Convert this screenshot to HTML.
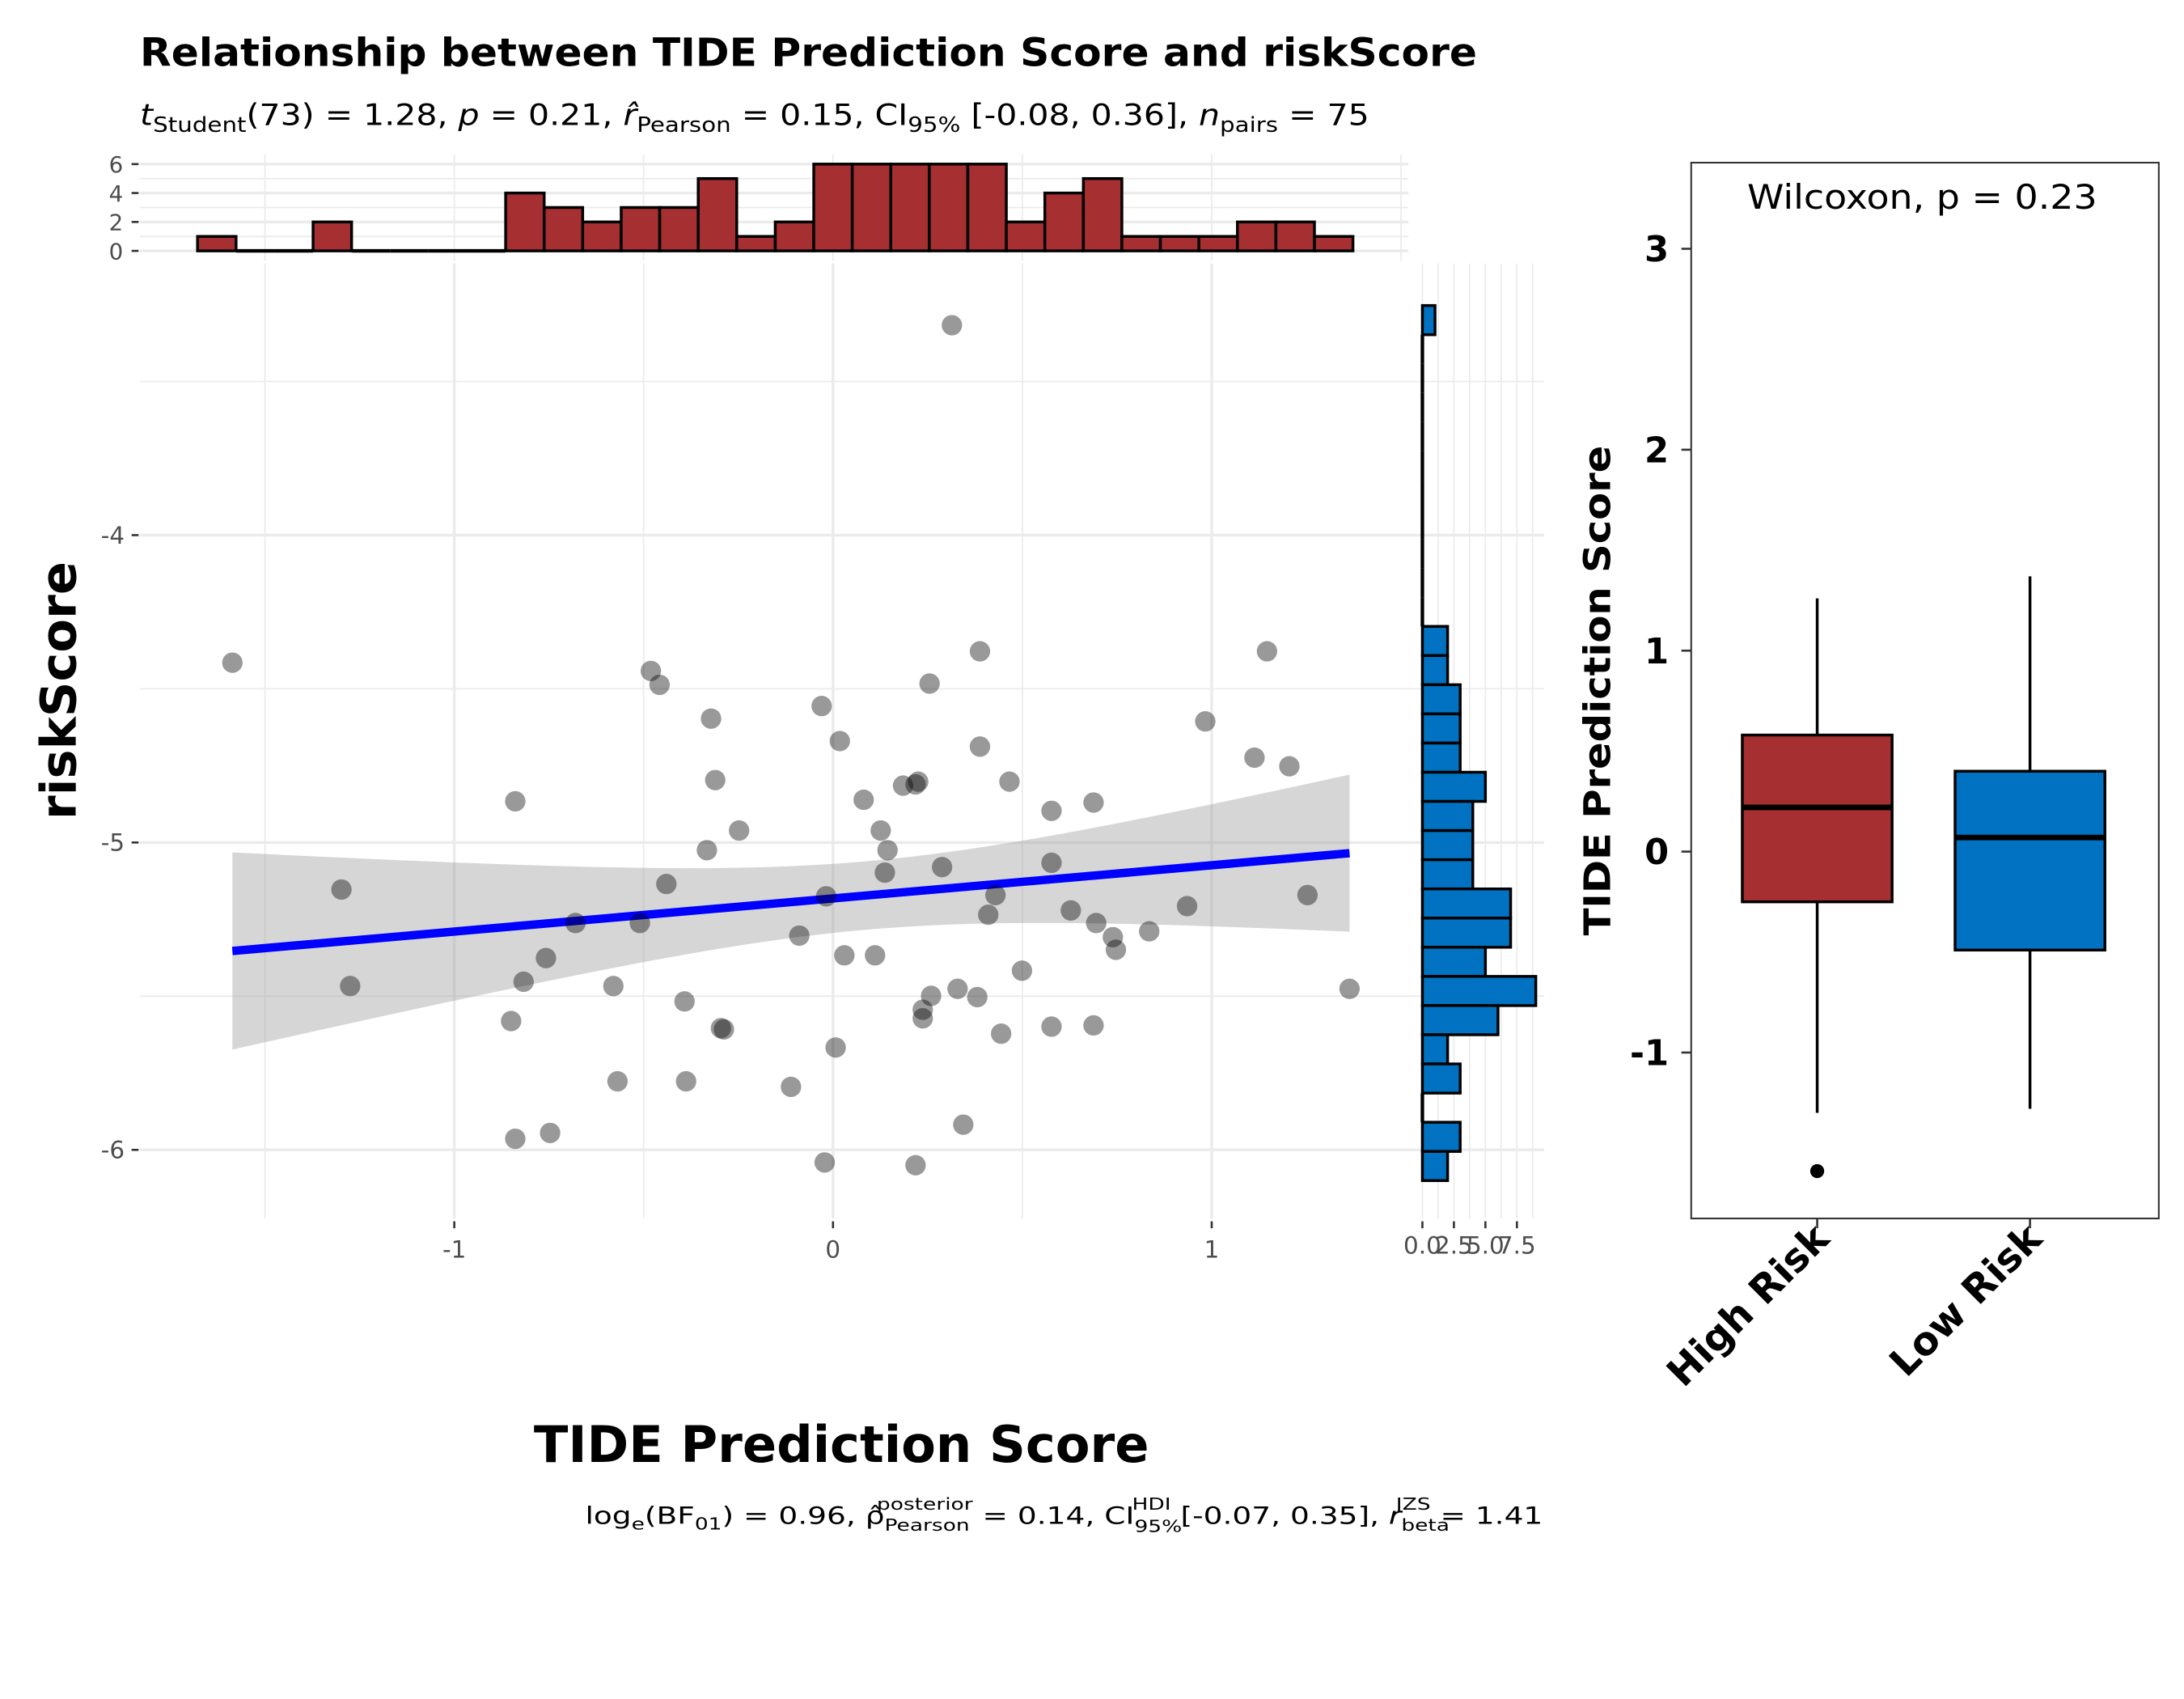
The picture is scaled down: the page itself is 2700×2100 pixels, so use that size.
<!DOCTYPE html>
<html><head><meta charset="utf-8"><style>
html,body{margin:0;padding:0;background:#fff}
svg{display:block;font-family:"DejaVu Sans","Liberation Sans",sans-serif}
</style></head><body>
<svg id="c" width="2700" height="2100" viewBox="0 0 1560 1213" xmlns="http://www.w3.org/2000/svg">
<rect width="1560" height="1213" fill="#fff"/>
<text x="100" y="47" font-size="28" font-weight="bold" textLength="955" lengthAdjust="spacingAndGlyphs">Relationship between TIDE Prediction Score and riskScore</text>
<text x="100" y="89" font-size="21" textLength="878" lengthAdjust="spacingAndGlyphs"><tspan font-style="italic">t</tspan><tspan font-size="15" dy="5">Student</tspan><tspan dy="-5">(73) = 1.28, </tspan><tspan font-style="italic">p</tspan><tspan> = 0.21, </tspan><tspan font-style="italic">r̂</tspan><tspan font-size="15" dy="5">Pearson</tspan><tspan dy="-5"> = 0.15, CI</tspan><tspan font-size="15" dy="5">95%</tspan><tspan dy="-5"> [-0.08, 0.36], </tspan><tspan font-style="italic">n</tspan><tspan font-size="15" dy="5">pairs</tspan><tspan dy="-5"> = 75</tspan></text>
<g id="grid"></g>
<g id="marks"></g>
<g id="axes"></g>
<text x="601" y="1044" font-size="36" font-weight="bold" text-anchor="middle">TIDE Prediction Score</text>
<text transform="translate(54,493) rotate(-90)" font-size="35" font-weight="bold" text-anchor="middle">riskScore</text>
<text x="418" y="1088" font-size="17" textLength="684" lengthAdjust="spacingAndGlyphs">log<tspan font-size="12" dy="4">e</tspan><tspan dy="-4">(BF</tspan><tspan font-size="12" dy="4">01</tspan><tspan dy="-4">) = 0.96, ρ̂</tspan><tspan font-size="12" dy="5">Pearson</tspan><tspan font-size="12" dx="-52" dy="-15">posterior</tspan><tspan dy="10"> = 0.14, CI</tspan><tspan font-size="12" dy="6">95%</tspan><tspan font-size="12" dx="-28" dy="-16">HDI</tspan><tspan dy="10">  [-0.07, 0.35], </tspan><tspan font-style="italic">r</tspan><tspan font-size="12" dy="5">beta</tspan><tspan font-size="12" dx="-30" dy="-15">JZS</tspan><tspan dy="10"> = 1.41</tspan></text>
<rect x="1208" y="116" width="334" height="754" fill="none" stroke="#333" stroke-width="1.2"/>
<text x="1373" y="149" font-size="24" text-anchor="middle" textLength="250" lengthAdjust="spacingAndGlyphs">Wilcoxon, p = 0.23</text>
<text transform="translate(1150,493) rotate(-90)" font-size="26" font-weight="bold" text-anchor="middle" textLength="350" lengthAdjust="spacingAndGlyphs">TIDE Prediction Score</text>
<g id="box"></g>
</svg>
<script>
// scatter data
const xs=[-1.586,-1.298,-1.275,-0.839,-0.850,-0.839,-0.747,-0.817,-0.758,-0.680,-0.580,-0.569,-0.510,-0.481,-0.458,-0.440,-0.392,-0.388,-0.322,-0.311,-0.333,-0.296,-0.288,-0.248,-0.111,-0.089,-0.030,-0.018,-0.022,0.007,0.018,0.030,0.081,0.111,0.126,0.137,0.144,0.185,0.218,0.225,0.237,0.218,0.237,0.255,0.259,0.288,0.329,0.344,0.381,0.388,0.388,0.410,0.429,0.466,0.444,0.499,0.577,0.577,0.577,0.688,0.688,0.695,0.628,0.747,0.739,0.835,0.935,0.983,1.113,1.146,1.205,1.253,1.364,0.314];
const ys=[-4.415,-5.153,-5.467,-4.866,-5.581,-5.964,-5.945,-5.453,-5.376,-5.262,-5.467,-5.777,-5.262,-4.442,-4.487,-5.135,-5.517,-5.777,-4.597,-4.797,-5.025,-5.604,-5.608,-4.961,-5.795,-5.303,-4.556,-5.175,-6.041,-5.667,-4.670,-5.367,-4.861,-5.367,-4.961,-5.098,-5.025,-4.815,-4.811,-4.802,-5.544,-6.050,-5.572,-4.483,-5.499,-5.080,-5.476,-5.918,-5.503,-4.378,-4.688,-5.235,-5.171,-4.802,-5.622,-5.417,-4.897,-5.066,-5.599,-4.870,-5.595,-5.262,-5.221,-5.349,-5.308,-5.289,-5.207,-4.606,-4.724,-4.378,-4.752,-5.171,-5.476,-3.317];
const xTicks=[-1,0,1];
const xTickLabels=["-1","0","1"];
const yTicks=[-4,-5,-6];
const yTickLabels=["-4","-5","-6"];
// top histogram
const topHistStart=-1.678;
const topHistWidth=0.1017;
const topCounts=[1,0,0,2,0,0,0,0,4,3,2,3,3,5,1,2,6,6,6,6,6,2,4,5,1,1,1,2,2,1];
const topTicks=[0,2,4,6];
// right histogram (bins from top)
const rightHistTop=-3.253;
const rightHistWidth=0.0949;
const rightCounts=[1,0,0,0,0,0,0,0,0,0,0,2,2,3,3,3,5,4,4,4,7,7,5,9,6,2,3,0,3,2];
const rightTicks=[0,2.5,5,7.5];
const rightTickLabels=["0.0","2.5","5.0","7.5"];
// boxplot
const groups=["High Risk","Low Risk"];
const boxQ1=[-0.25,-0.49];
const boxMed=[0.22,0.07];
const boxQ3=[0.58,0.40];
const boxLo=[-1.30,-1.28];
const boxHi=[1.26,1.37];
const outliers=[[-1.59],[]];
const boxTicks=[-1,0,1,2,3];
const boxColors=["#a52f31","#0072c1"];

const NS="http://www.w3.org/2000/svg";
function mk(tag,attrs,parent,txt){const e=document.createElementNS(NS,tag);for(const k in attrs)e.setAttribute(k,attrs[k]);if(txt!==undefined)e.textContent=txt;parent.appendChild(e);return e;}
const X=v=>595+v*270.5;
const Y=v=>382-(v+4)*219.5;
const TY=c=>179-c*10.33;
const RX=c=>1016+c*9.0;
const grid=document.getElementById('grid'),marks=document.getElementById('marks'),axes=document.getElementById('axes'),box=document.getElementById('box');
[-1.5,-0.5,0.5].forEach(v=>{let l=mk('line',{x1:X(v),x2:X(v),y1:188,y2:870,stroke:'#ebebeb','stroke-width':1},grid);
});
xTicks.forEach(v=>{let l=mk('line',{x1:X(v),x2:X(v),y1:188,y2:870,stroke:'#ebebeb','stroke-width':2},grid);
});
[-3.5,-4.5,-5.5].forEach(v=>{let l=mk('line',{x1:100,x2:1103,y1:Y(v),y2:Y(v),stroke:'#ebebeb','stroke-width':1},grid);
});
yTicks.forEach(v=>{let l=mk('line',{x1:100,x2:1103,y1:Y(v),y2:Y(v),stroke:'#ebebeb','stroke-width':2},grid);
});
[0,1,2,3,4,5,6].forEach(c=>{let l=mk('line',{x1:100,x2:1006,y1:TY(c),y2:TY(c),stroke:'#ebebeb','stroke-width':c%2?1:2},grid);
});
[-1.5,-1,-0.5,0,0.5,1,1.5].forEach(v=>{let l=mk('line',{x1:X(v),x2:X(v),y1:110,y2:186,stroke:'#ebebeb','stroke-width':1},grid);
});
[0,1.25,2.5,3.75,5,6.25,7.5,8.75].forEach(c=>{let l=mk('line',{x1:RX(c),x2:RX(c),y1:188,y2:870,stroke:'#ebebeb','stroke-width':1},grid);
});
// regression + CI
const n=xs.length;const mx=xs.reduce((a,b)=>a+b)/n,my=ys.reduce((a,b)=>a+b)/n;
let sxx=0,sxy=0;for(let i=0;i<n;i++){sxx+=(xs[i]-mx)**2;sxy+=(xs[i]-mx)*(ys[i]-my);}
const b=sxy/sxx,a=my-b*mx;let sse=0;for(let i=0;i<n;i++)sse+=(ys[i]-a-b*xs[i])**2;
const s=Math.sqrt(sse/(n-2)),t=1.993;
const xmin=Math.min(...xs),xmax=Math.max(...xs);
let up=[],lo=[];for(let k=0;k<=80;k++){const x=xmin+(xmax-xmin)*k/80;const f=a+b*x;const se=s*Math.sqrt(1/n+(x-mx)**2/sxx);up.push(X(x)+','+Y(f+t*se));lo.unshift(X(x)+','+Y(f-t*se));}
const band=mk('polygon',{points:up.concat(lo).join(' '),fill:'#999','fill-opacity':0.4},marks);

const rl=mk('line',{x1:X(xmin),y1:Y(a+b*xmin),x2:X(xmax),y2:Y(a+b*xmax),stroke:'#0000ff','stroke-width':6},marks);

for(let i=0;i<n;i++){const p=mk('circle',{cx:X(xs[i]),cy:Y(ys[i]),r:7.3,fill:'#000','fill-opacity':0.4},marks);
}
// top hist bars
topCounts.forEach((c,i)=>{const x0=X(topHistStart+i*topHistWidth),x1=X(topHistStart+(i+1)*topHistWidth);
if(c>0){const r=mk('rect',{x:x0,y:TY(c),width:x1-x0,height:TY(0)-TY(c),fill:'#a52f31',stroke:'#000','stroke-width':2},marks);
}
else{const l=mk('line',{x1:x0,x2:x1,y1:TY(0),y2:TY(0),stroke:'#000','stroke-width':2.5},marks);
}});
topTicks.forEach(c=>{const l=mk('line',{x1:94,x2:99,y1:TY(c),y2:TY(c),stroke:'#333','stroke-width':1.5},axes);

const tx=mk('text',{x:88,y:TY(c)+6,'font-size':16,fill:'#4d4d4d','text-anchor':'end'},axes,String(c));
});
// right hist bars
rightCounts.forEach((c,i)=>{const y0=Y(rightHistTop-i*rightHistWidth),y1=Y(rightHistTop-(i+1)*rightHistWidth);
if(c>0){const r=mk('rect',{x:RX(0),y:y0,width:RX(c)-RX(0),height:y1-y0,fill:'#0072c1',stroke:'#000','stroke-width':2},marks);
}
else{const l=mk('line',{x1:RX(0),x2:RX(0),y1:y0,y2:y1,stroke:'#000','stroke-width':2.5},marks);
}});
rightTicks.forEach((c,i)=>{const l=mk('line',{x1:RX(c),x2:RX(c),y1:872,y2:877,stroke:'#333','stroke-width':1.5},axes);

const tx=mk('text',{x:RX(c),y:895,'font-size':17,fill:'#4d4d4d','text-anchor':'middle'},axes,rightTickLabels[i]);
});
xTicks.forEach((v,i)=>{const l=mk('line',{x1:X(v),x2:X(v),y1:872,y2:877,stroke:'#333','stroke-width':1.5},axes);

const tx=mk('text',{x:X(v),y:898,'font-size':17,fill:'#4d4d4d','text-anchor':'middle'},axes,xTickLabels[i]);
});
yTicks.forEach((v,i)=>{const l=mk('line',{x1:94,x2:99,y1:Y(v),y2:Y(v),stroke:'#333','stroke-width':1.5},axes);

const tx=mk('text',{x:89,y:Y(v)+6,'font-size':17,fill:'#4d4d4d','text-anchor':'end'},axes,yTickLabels[i]);
});
// boxplot
const BY=v=>608-v*143.5;const BX=[1298,1450];const hw=53.5;
boxTicks.forEach(v=>{const l=mk('line',{x1:1201,x2:1208,y1:BY(v),y2:BY(v),stroke:'#333','stroke-width':1.5},box);

const tx=mk('text',{x:1192,y:BY(v)+9,'font-size':25,'font-weight':'bold','text-anchor':'end'},box,String(v));
});
groups.forEach((g,i)=>{const cx=BX[i];
const w=mk('line',{x1:cx,x2:cx,y1:BY(boxHi[i]),y2:BY(boxLo[i]),stroke:'#000','stroke-width':2},box);

const r=mk('rect',{x:cx-hw,y:BY(boxQ3[i]),width:2*hw,height:BY(boxQ1[i])-BY(boxQ3[i]),fill:boxColors[i],stroke:'#000','stroke-width':2},box);

const m=mk('line',{x1:cx-hw,x2:cx+hw,y1:BY(boxMed[i]),y2:BY(boxMed[i]),stroke:'#000','stroke-width':4},box);

outliers[i].forEach(o=>{const c=mk('circle',{cx:cx,cy:BY(o),r:5,fill:'#000'},box);
});
const tk=mk('line',{x1:cx,x2:cx,y1:870,y2:877,stroke:'#333','stroke-width':1.5},box);

const tx=mk('text',{transform:`translate(${cx+10},${886}) rotate(-45)`,'font-size':28,'font-weight':'bold','text-anchor':'end'},box,g);
});
</script>
</body></html>
